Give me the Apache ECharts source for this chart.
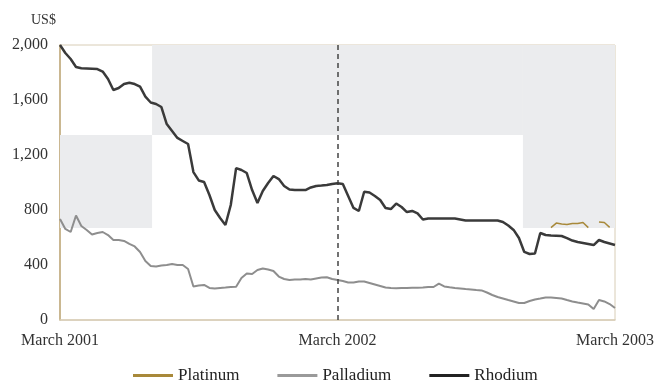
<!DOCTYPE html>
<html>
<head>
<meta charset="utf-8">
<script src="https://cdn.jsdelivr.net/npm/echarts@6/dist/echarts.min.js"></script>
<style>
  html, body { margin: 0; padding: 0; background: #fff; }
  #chart { width: 658px; height: 387px; }
</style>
</head>
<body>
<div id="chart"></div>
<script>
// weekly prices, March 2001 (week 0) to March 2003 (week 104)
const tickLabels = ['March 2001', 'March 2002', 'March 2003'];

const rhodium = [
  2000, 1942, 1898, 1840, 1831, 1829, 1827, 1825, 1807, 1753,
  1673, 1687, 1716, 1726, 1716, 1697, 1624, 1582, 1571, 1549,
  1425, 1375, 1324, 1302, 1280, 1076, 1015, 1004, 909, 800,
  742, 691, 836, 1105, 1091, 1069, 945, 851, 938, 996,
  1047, 1025, 975, 949, 945, 945, 945, 964, 975, 978,
  982, 989, 994, 989, 902, 815, 793, 933, 927, 902,
  873, 815, 807, 847, 822, 785, 793, 775, 731, 738,
  738, 738, 738, 738, 738, 731, 724, 724, 724, 724,
  724, 724, 724, 713, 687, 655, 596, 495, 480, 484,
  633, 618, 615, 613, 611, 596, 578, 567, 560, 553,
  545, 582, 567, 556, 545
];

const palladium = [
  735, 662, 640, 760, 684, 655, 622, 633, 640, 618,
  582, 582, 575, 553, 535, 495, 429, 393, 389, 396,
  400, 407, 400, 400, 371, 244, 251, 255, 233, 229,
  233, 236, 240, 242, 305, 338, 335, 364, 375, 367,
  356, 316, 298, 291, 295, 295, 298, 295, 302, 309,
  311, 298, 291, 284, 273, 273, 280, 280, 269, 258,
  247, 236, 233, 231, 233, 233, 234, 235, 236, 240,
  240, 265, 244, 238, 233, 229, 225, 222, 218, 215,
  200, 182, 167, 156, 145, 135, 124, 124, 138, 149,
  156, 164, 164, 160, 156, 145, 135, 127, 120, 113,
  80, 145, 135, 116, 87
];

// platinum only shows through the shaded panel at the end (null = hidden)
const platinum = [];
for (let i = 0; i < 92; i++) platinum.push(null);
platinum.push(672, 705, 698, 695, 702, 702, 709, 672, null, 713, 709, 674, null);

// shaded background panels [weekFrom, valueFrom, weekTo, valueTo]
const panels = [
  [0, 670, 17.25, 1345],
  [17.25, 1345, 86.75, 2000],
  [86.75, 670, 104, 2000]
];

const serif = 'Liberation Serif';
const rows = (arr) => arr.map((v, i) => [i, v]);

const chart = echarts.init(document.getElementById('chart'));
chart.setOption({
  animation: false,
  textStyle: { fontFamily: serif },
  title: {
    text: 'US$', left: 26, top: 8,
    textStyle: { fontFamily: serif, fontSize: 14, fontWeight: 'normal', color: '#333' }
  },
  grid: {
    left: 60, right: 43, top: 45, bottom: 67,
    show: true, borderColor: '#d8cdb6', borderWidth: 1, backgroundColor: '#fff'
  },
  legend: {
    bottom: -2, left: 128, itemGap: 38, itemWidth: 40, itemHeight: 3, icon: 'rect',
    textStyle: { fontFamily: serif, fontSize: 17, color: '#222' },
    data: [
      { name: 'Platinum', textStyle: { fontFamily: serif } },
      { name: 'Palladium', textStyle: { fontFamily: serif } },
      { name: 'Rhodium', textStyle: { fontFamily: serif } }
    ]
  },
  xAxis: {
    type: 'value', min: 0, max: 104, interval: 52,
    axisLine: { lineStyle: { color: '#d8cdb6', width: 1.5 } },
    axisTick: { show: false },
    splitLine: { show: false },
    axisLabel: {
      fontFamily: serif, fontSize: 16, color: '#333', margin: 13,
      formatter: (v) => tickLabels[Math.round(v / 52)]
    }
  },
  yAxis: {
    type: 'value', min: 0, max: 2000, interval: 400,
    axisLine: { show: true, lineStyle: { color: '#bfa978', width: 1.5 } },
    axisTick: { show: false },
    splitLine: { show: false },
    axisLabel: {
      fontFamily: serif, fontSize: 16, color: '#333', margin: 12,
      formatter: (v) => v.toLocaleString('en-US')
    }
  },
  series: [
    {
      name: 'Platinum', type: 'line', data: rows(platinum), showSymbol: false, z: 3,
      itemStyle: { color: '#a8893a' },
      lineStyle: { color: '#a8893a', width: 1.5 },
      markArea: {
        silent: true,
        itemStyle: { color: '#ebecee' },
        data: panels.map(p => [{ coord: [p[0], p[1]] }, { coord: [p[2], p[3]] }])
      }
    },
    {
      name: 'Palladium', type: 'line', data: rows(palladium), showSymbol: false, z: 4,
      itemStyle: { color: '#9a9a9a' },
      lineStyle: { color: '#8e8e8e', width: 2 }
    },
    {
      name: 'Rhodium', type: 'line', data: rows(rhodium), showSymbol: false, z: 5,
      itemStyle: { color: '#222' },
      lineStyle: { color: '#3a3a3a', width: 2.5 },
      markLine: {
        silent: true, symbol: 'none', label: { show: false },
        lineStyle: { color: '#444', type: [5, 4], width: 1.5 },
        data: [{ xAxis: 52 }]
      }
    }
  ]
});
</script>
</body>
</html>
